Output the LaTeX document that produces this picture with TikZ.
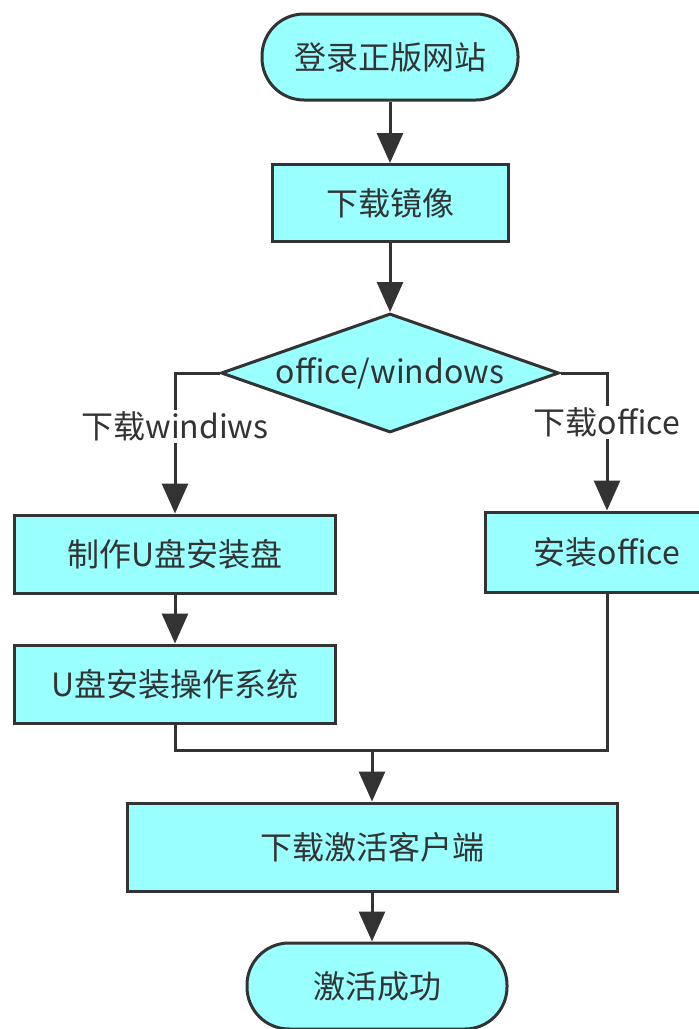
\documentclass[tikz,border=0pt]{standalone}
\usepackage{fontspec}
\setmainfont{Noto Sans CJK SC}
\usetikzlibrary{shapes.geometric,arrows.meta}
\definecolor{linec}{HTML}{333333}
\definecolor{fillc}{HTML}{99FFFF}
\definecolor{textc}{HTML}{333333}
\begin{document}
\begin{tikzpicture}[x=1pt,y=-1pt,
  txt/.style={font=\fontsize{32}{38}\selectfont, text=textc},
  box/.style={txt, draw=linec, line width=3pt, fill=fillc, inner sep=0pt, rectangle},
  term/.style={box, rounded corners=42pt},
  dec/.style={box, diamond, aspect=3.2},
  conn/.style={draw=linec, line width=3pt},
  arr/.style={conn, -{Triangle[width=26pt,length=30pt]}},
  lbl/.style={txt, fill=white, inner sep=2pt}
]
\useasboundingbox (0,0) rectangle (699,1029);
\clip (0,0) rectangle (699,1029);

\node[term, minimum width=256pt, minimum height=86pt] (t1) at (390,57) {登录正版网站};
\node[box, minimum width=236pt, minimum height=77pt] (d1) at (390,203) {下载镜像};
\node[dec, minimum width=338pt, minimum height=119pt] (dia) at (390,373) {office/windows};
\node[box, minimum width=321pt, minimum height=78pt] (b1) at (175,554) {制作U盘安装盘};
\node[box, minimum width=321pt, minimum height=78pt] (b2) at (175,684) {U盘安装操作系统};
\node[box, minimum width=244pt, minimum height=80pt] (b3) at (607,552) {安装office};
\node[box, minimum width=490pt, minimum height=88pt] (b4) at (372,847) {下载激活客户端};
\node[term, minimum width=260pt, minimum height=86pt] (t2) at (377,986) {激活成功};
\coordinate (m) at (372,750);

\draw[arr] (t1) -- (d1);
\draw[arr] (d1) -- (dia);
\draw[arr] (dia.west) -| node[lbl, pos=0.69] {下载windiws} (b1);
\draw[arr] (dia.east) -| node[lbl, pos=0.68] {下载office} (b3);
\draw[arr] (b1) -- (b2);
\draw[conn] (b2.south) |- (m);
\draw[conn] (b3.south) |- (m);
\draw[arr] (m) -- (b4);
\draw[arr] (b4.south) -- (b4.south |- t2.north);
\end{tikzpicture}
\end{document}
